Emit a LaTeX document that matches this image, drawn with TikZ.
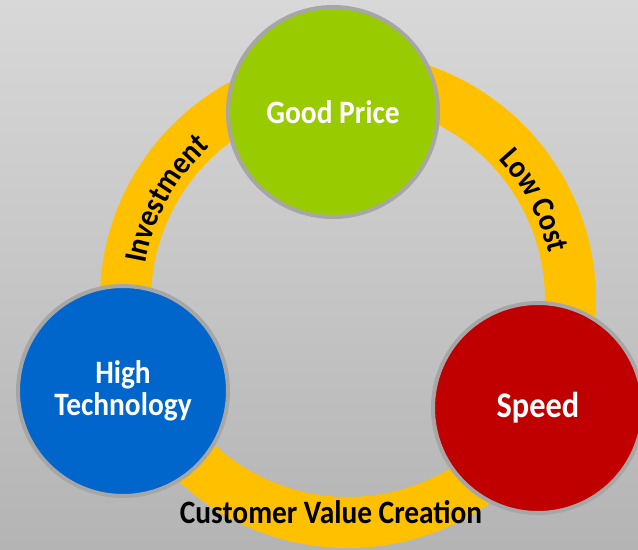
\documentclass[tikz,border=0pt]{standalone}
\usepackage{fontspec}
\setmainfont{Carlito}[FakeStretch=0.9]
\usepackage{tikz}
\usepackage{xcolor}
\usetikzlibrary{decorations.text}

\definecolor{bgtop}{RGB}{216,216,216}
\definecolor{bgbottom}{RGB}{180,180,180}
\definecolor{ringgold}{RGB}{255,192,0}
\definecolor{rimgray}{RGB}{166,166,166}
\definecolor{pricegreen}{RGB}{153,204,0}
\definecolor{techblue}{RGB}{0,102,204}
\definecolor{speedred}{RGB}{192,0,0}

\tikzset{
  bubble/.style={circle, draw=rimgray, line width=3pt, minimum size=157.5pt, inner sep=0pt,
    text=white, align=center, font=\bfseries\fontsize{24.5}{24}\selectfont},
  ringtext/.style={decorate, decoration={text along path, text align=center,
    text={|\bfseries\fontsize{24}{24}\selectfont|#1}}}
}

\begin{document}
\begin{tikzpicture}[x=0.75pt,y=0.75pt,yscale=-1,xscale=1]
\useasboundingbox (0,0) rectangle (638,549);
\clip (0,0) rectangle (638,549);

%Shape: Background
\shade [top color=bgtop, bottom color=bgbottom] (0,0) rectangle (638,549);

%Shape: Ring
\fill [ringgold, even odd rule] (348,300) circle (248) (348,300) circle (197);

% Ring Text
\path [ringtext={Investment}] (348,300) ++(180:206) arc [start angle=180, end angle=238, radius=206];
\path [ringtext={Low Cost}] (348,300) ++(-58:206) arc [start angle=-58, end angle=2, radius=206];

%Shape: Circle
\draw (333,112) node (price) [bubble, fill=pricegreen] {Good Price};
%Shape: Circle
\draw (123,391) node (tech) [bubble, fill=techblue] {High\\Technology};
%Shape: Circle
\draw (538,408) node (speed) [bubble, fill=speedred, font=\bfseries\fontsize{27}{27}\selectfont] {Speed};

% Text Node
\draw (331,523) node (value) [anchor=base, font=\bfseries\fontsize{24.5}{24}\selectfont] {Customer Value Creation};
\end{tikzpicture}
\end{document}
